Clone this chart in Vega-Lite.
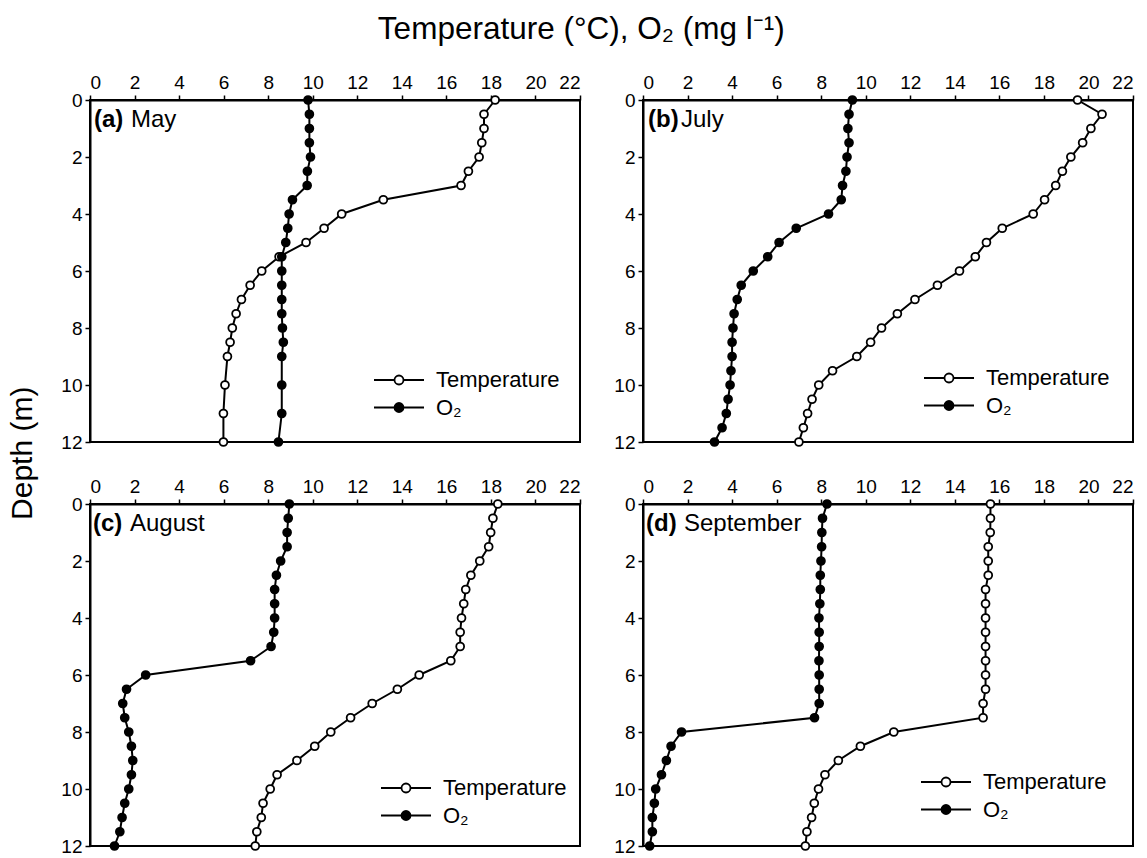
{
  "$schema": "https://vega.github.io/schema/vega-lite/v6.json",
  "padding": {"left": 7, "top": 13, "right": 5, "bottom": 0},
  "background": "white",
  "config": {
    "font": "Liberation Sans",
    "view": {"stroke": "black", "strokeWidth": 2},
    "axis": {"domainColor": "black", "domainWidth": 2, "tickColor": "black", "tickWidth": 1.5, "tickSize": 5, "labelFont": "Liberation Sans", "labelFontSize": 19, "labelColor": "black", "grid": false, "labelPadding": 3, "title": null},
    "legend": {"orient": "none", "title": null, "padding": 0, "symbolType": "M-5,0L-0.9,0M0.9,0L5,0M-0.9,0A0.9,0.9,0,1,1,0.9,0A0.9,0.9,0,1,1,-0.9,0Z", "symbolSize": 100, "symbolStrokeColor": "black", "symbolStrokeWidth": 1.8, "labelFont": "Liberation Sans", "labelFontSize": 22, "labelColor": "black", "labelOffset": 26, "rowPadding": 5.5},
    "title": {"font": "Liberation Sans", "fontWeight": "normal", "color": "black", "fontSize": 30}
  },
  "datasets": {
    "prof": [
      {"m":"a","d":0,"s":"T","v":18.19},{"m":"a","d":0.5,"s":"T","v":17.69},{"m":"a","d":1,"s":"T","v":17.69},{"m":"a","d":1.5,"s":"T","v":17.59},{"m":"a","d":2,"s":"T","v":17.47},{"m":"a","d":2.5,"s":"T","v":16.99},{"m":"a","d":3,"s":"T","v":16.66},{"m":"a","d":3.5,"s":"T","v":13.17},{"m":"a","d":4,"s":"T","v":11.3},{"m":"a","d":4.5,"s":"T","v":10.51},{"m":"a","d":5,"s":"T","v":9.7},{"m":"a","d":5.5,"s":"T","v":8.49},{"m":"a","d":6,"s":"T","v":7.71},{"m":"a","d":6.5,"s":"T","v":7.19},{"m":"a","d":7,"s":"T","v":6.8},{"m":"a","d":7.5,"s":"T","v":6.56},{"m":"a","d":8,"s":"T","v":6.39},{"m":"a","d":8.5,"s":"T","v":6.29},{"m":"a","d":9,"s":"T","v":6.17},{"m":"a","d":10,"s":"T","v":6.06},{"m":"a","d":11,"s":"T","v":5.99},{"m":"a","d":12,"s":"T","v":5.99},
      {"m":"a","d":0,"s":"O","v":9.79},{"m":"a","d":0.5,"s":"O","v":9.85},{"m":"a","d":1,"s":"O","v":9.85},{"m":"a","d":1.5,"s":"O","v":9.85},{"m":"a","d":2,"s":"O","v":9.9},{"m":"a","d":2.5,"s":"O","v":9.76},{"m":"a","d":3,"s":"O","v":9.75},{"m":"a","d":3.5,"s":"O","v":9.09},{"m":"a","d":4,"s":"O","v":8.94},{"m":"a","d":4.5,"s":"O","v":8.88},{"m":"a","d":5,"s":"O","v":8.79},{"m":"a","d":5.5,"s":"O","v":8.61},{"m":"a","d":6,"s":"O","v":8.61},{"m":"a","d":6.5,"s":"O","v":8.61},{"m":"a","d":7,"s":"O","v":8.61},{"m":"a","d":7.5,"s":"O","v":8.61},{"m":"a","d":8,"s":"O","v":8.64},{"m":"a","d":8.5,"s":"O","v":8.68},{"m":"a","d":9,"s":"O","v":8.61},{"m":"a","d":10,"s":"O","v":8.61},{"m":"a","d":11,"s":"O","v":8.61},{"m":"a","d":12,"s":"O","v":8.46},
      {"m":"b","d":0,"s":"T","v":19.51},{"m":"b","d":0.5,"s":"T","v":20.61},{"m":"b","d":1,"s":"T","v":20.11},{"m":"b","d":1.5,"s":"T","v":19.74},{"m":"b","d":2,"s":"T","v":19.21},{"m":"b","d":2.5,"s":"T","v":18.83},{"m":"b","d":3,"s":"T","v":18.53},{"m":"b","d":3.5,"s":"T","v":18.03},{"m":"b","d":4,"s":"T","v":17.52},{"m":"b","d":4.5,"s":"T","v":16.13},{"m":"b","d":5,"s":"T","v":15.42},{"m":"b","d":5.5,"s":"T","v":14.92},{"m":"b","d":6,"s":"T","v":14.21},{"m":"b","d":6.5,"s":"T","v":13.22},{"m":"b","d":7,"s":"T","v":12.21},{"m":"b","d":7.5,"s":"T","v":11.42},{"m":"b","d":8,"s":"T","v":10.71},{"m":"b","d":8.5,"s":"T","v":10.22},{"m":"b","d":9,"s":"T","v":9.6},{"m":"b","d":9.5,"s":"T","v":8.51},{"m":"b","d":10,"s":"T","v":7.89},{"m":"b","d":10.5,"s":"T","v":7.59},{"m":"b","d":11,"s":"T","v":7.39},{"m":"b","d":11.5,"s":"T","v":7.2},{"m":"b","d":12,"s":"T","v":7.0},
      {"m":"b","d":0,"s":"O","v":9.4},{"m":"b","d":0.5,"s":"O","v":9.25},{"m":"b","d":1,"s":"O","v":9.2},{"m":"b","d":1.5,"s":"O","v":9.25},{"m":"b","d":2,"s":"O","v":9.16},{"m":"b","d":2.5,"s":"O","v":9.11},{"m":"b","d":3,"s":"O","v":8.96},{"m":"b","d":3.5,"s":"O","v":8.9},{"m":"b","d":4,"s":"O","v":8.33},{"m":"b","d":4.5,"s":"O","v":6.88},{"m":"b","d":5,"s":"O","v":6.11},{"m":"b","d":5.5,"s":"O","v":5.6},{"m":"b","d":6,"s":"O","v":4.95},{"m":"b","d":6.5,"s":"O","v":4.41},{"m":"b","d":7,"s":"O","v":4.23},{"m":"b","d":7.5,"s":"O","v":4.09},{"m":"b","d":8,"s":"O","v":4.04},{"m":"b","d":8.5,"s":"O","v":4.0},{"m":"b","d":9,"s":"O","v":4.0},{"m":"b","d":9.5,"s":"O","v":3.95},{"m":"b","d":10,"s":"O","v":3.91},{"m":"b","d":10.5,"s":"O","v":3.82},{"m":"b","d":11,"s":"O","v":3.74},{"m":"b","d":11.5,"s":"O","v":3.55},{"m":"b","d":12,"s":"O","v":3.21},
      {"m":"c","d":0,"s":"T","v":18.31},{"m":"c","d":0.5,"s":"T","v":18.09},{"m":"c","d":1,"s":"T","v":17.99},{"m":"c","d":1.5,"s":"T","v":17.9},{"m":"c","d":2,"s":"T","v":17.5},{"m":"c","d":2.5,"s":"T","v":17.1},{"m":"c","d":3,"s":"T","v":16.87},{"m":"c","d":3.5,"s":"T","v":16.78},{"m":"c","d":4,"s":"T","v":16.68},{"m":"c","d":4.5,"s":"T","v":16.62},{"m":"c","d":5,"s":"T","v":16.62},{"m":"c","d":5.5,"s":"T","v":16.2},{"m":"c","d":6,"s":"T","v":14.78},{"m":"c","d":6.5,"s":"T","v":13.8},{"m":"c","d":7,"s":"T","v":12.67},{"m":"c","d":7.5,"s":"T","v":11.7},{"m":"c","d":8,"s":"T","v":10.81},{"m":"c","d":8.5,"s":"T","v":10.09},{"m":"c","d":9,"s":"T","v":9.29},{"m":"c","d":9.5,"s":"T","v":8.4},{"m":"c","d":10,"s":"T","v":8.09},{"m":"c","d":10.5,"s":"T","v":7.77},{"m":"c","d":11,"s":"T","v":7.69},{"m":"c","d":11.5,"s":"T","v":7.49},{"m":"c","d":12,"s":"T","v":7.42},
      {"m":"c","d":0,"s":"O","v":8.95},{"m":"c","d":0.5,"s":"O","v":8.9},{"m":"c","d":1,"s":"O","v":8.85},{"m":"c","d":1.5,"s":"O","v":8.85},{"m":"c","d":2,"s":"O","v":8.56},{"m":"c","d":2.5,"s":"O","v":8.37},{"m":"c","d":3,"s":"O","v":8.29},{"m":"c","d":3.5,"s":"O","v":8.29},{"m":"c","d":4,"s":"O","v":8.29},{"m":"c","d":4.5,"s":"O","v":8.25},{"m":"c","d":5,"s":"O","v":8.13},{"m":"c","d":5.5,"s":"O","v":7.21},{"m":"c","d":6,"s":"O","v":2.5},{"m":"c","d":6.5,"s":"O","v":1.64},{"m":"c","d":7,"s":"O","v":1.47},{"m":"c","d":7.5,"s":"O","v":1.56},{"m":"c","d":8,"s":"O","v":1.74},{"m":"c","d":8.5,"s":"O","v":1.86},{"m":"c","d":9,"s":"O","v":1.92},{"m":"c","d":9.5,"s":"O","v":1.86},{"m":"c","d":10,"s":"O","v":1.74},{"m":"c","d":10.5,"s":"O","v":1.56},{"m":"c","d":11,"s":"O","v":1.44},{"m":"c","d":11.5,"s":"O","v":1.34},{"m":"c","d":12,"s":"O","v":1.1},
      {"m":"d","d":0,"s":"T","v":15.6},{"m":"d","d":0.5,"s":"T","v":15.6},{"m":"d","d":1,"s":"T","v":15.59},{"m":"d","d":1.5,"s":"T","v":15.5},{"m":"d","d":2,"s":"T","v":15.5},{"m":"d","d":2.5,"s":"T","v":15.5},{"m":"d","d":3,"s":"T","v":15.38},{"m":"d","d":3.5,"s":"T","v":15.38},{"m":"d","d":4,"s":"T","v":15.38},{"m":"d","d":4.5,"s":"T","v":15.38},{"m":"d","d":5,"s":"T","v":15.38},{"m":"d","d":5.5,"s":"T","v":15.38},{"m":"d","d":6,"s":"T","v":15.38},{"m":"d","d":6.5,"s":"T","v":15.38},{"m":"d","d":7,"s":"T","v":15.27},{"m":"d","d":7.5,"s":"T","v":15.27},{"m":"d","d":8,"s":"T","v":11.26},{"m":"d","d":8.5,"s":"T","v":9.76},{"m":"d","d":9,"s":"T","v":8.77},{"m":"d","d":9.5,"s":"T","v":8.17},{"m":"d","d":10,"s":"T","v":7.88},{"m":"d","d":10.5,"s":"T","v":7.69},{"m":"d","d":11,"s":"T","v":7.57},{"m":"d","d":11.5,"s":"T","v":7.36},{"m":"d","d":12,"s":"T","v":7.29},
      {"m":"d","d":0,"s":"O","v":8.26},{"m":"d","d":0.5,"s":"O","v":8.06},{"m":"d","d":1,"s":"O","v":8.03},{"m":"d","d":1.5,"s":"O","v":8.02},{"m":"d","d":2,"s":"O","v":7.99},{"m":"d","d":2.5,"s":"O","v":7.96},{"m":"d","d":3,"s":"O","v":7.96},{"m":"d","d":3.5,"s":"O","v":7.94},{"m":"d","d":4,"s":"O","v":7.9},{"m":"d","d":4.5,"s":"O","v":7.91},{"m":"d","d":5,"s":"O","v":7.91},{"m":"d","d":5.5,"s":"O","v":7.9},{"m":"d","d":6,"s":"O","v":7.91},{"m":"d","d":6.5,"s":"O","v":7.91},{"m":"d","d":7,"s":"O","v":7.91},{"m":"d","d":7.5,"s":"O","v":7.7},{"m":"d","d":8,"s":"O","v":1.73},{"m":"d","d":8.5,"s":"O","v":1.26},{"m":"d","d":9,"s":"O","v":1.05},{"m":"d","d":9.5,"s":"O","v":0.83},{"m":"d","d":10,"s":"O","v":0.57},{"m":"d","d":10.5,"s":"O","v":0.51},{"m":"d","d":11,"s":"O","v":0.42},{"m":"d","d":11.5,"s":"O","v":0.42},{"m":"d","d":12,"s":"O","v":0.3}
    ],
    "labels": [
      {"m":"a","tag":"(a)","name":"May"},
      {"m":"b","tag":"(b)","name":"July"},
      {"m":"c","tag":"(c)","name":"August"},
      {"m":"d","tag":"(d)","name":"September"}
    ]
  },
  "title": {"text": "Depth (m)", "orient": "left", "anchor": "middle", "offset": 22, "dx": -18},
  "vconcat": [
    {
      "title": {"text": "Temperature (°C), O₂ (mg l⁻¹)", "anchor": "middle", "fontSize": 31.5, "offset": 27, "dx": -16},
      "columns": 2,
      "bounds": "flush",
      "spacing": {"row": 62, "column": 63},
      "resolve": {"scale": {"fill": "independent"}, "legend": {"fill": "independent"}},
      "concat": [
        {
          "width": 490, "height": 342,
          "layer": [
            {"data": {"name": "prof"}, "transform": [{"filter": "datum.m === 'a'"}],
             "mark": {"type": "line", "color": "black", "strokeWidth": 2},
             "encoding": {
               "x": {"field": "v", "type": "quantitative", "scale": {"domain": [0, 22], "nice": false, "zero": false}, "axis": {"orient": "top", "values": [0,2,4,6,8,10,12,14,16,18,20,22]}},
               "y": {"field": "d", "type": "quantitative", "scale": {"domain": [0, 12], "reverse": true, "nice": false}, "axis": {"values": [0,2,4,6,8,10,12]}},
               "detail": {"field": "s"}, "order": {"field": "d", "type": "quantitative"}}},
            {"data": {"name": "prof"}, "transform": [{"filter": "datum.m === 'a'"}],
             "mark": {"type": "point", "shape": "circle", "filled": true, "stroke": "black", "strokeWidth": 1.8, "size": 62, "opacity": 1},
             "encoding": {
               "x": {"field": "v", "type": "quantitative"},
               "y": {"field": "d", "type": "quantitative"},
               "fill": {"field": "s", "type": "nominal", "scale": {"domain": ["T", "O"], "range": ["white", "black"]}, "legend": {"legendX": 298, "legendY": 269, "labelExpr": "datum.label == 'T' ? 'Temperature' : 'O₂'"}}}},
            {"data": {"name": "labels"}, "transform": [{"filter": "datum.m === 'a'"}],
             "mark": {"type": "text", "align": "left", "baseline": "middle", "dx": 4, "dy": 20, "fontSize": 24, "fontWeight": "bold", "font": "Liberation Sans", "color": "black"},
             "encoding": {"x": {"datum": 0, "type": "quantitative"}, "y": {"datum": 0, "type": "quantitative"}, "text": {"field": "tag"}}},
            {"data": {"name": "labels"}, "transform": [{"filter": "datum.m === 'a'"}],
             "mark": {"type": "text", "align": "left", "baseline": "middle", "dx": 41, "dy": 20, "fontSize": 24, "font": "Liberation Sans", "color": "black"},
             "encoding": {"x": {"datum": 0, "type": "quantitative"}, "y": {"datum": 0, "type": "quantitative"}, "text": {"field": "name"}}}
          ]
        },
        {
          "width": 490, "height": 342,
          "layer": [
            {"data": {"name": "prof"}, "transform": [{"filter": "datum.m === 'b'"}],
             "mark": {"type": "line", "color": "black", "strokeWidth": 2},
             "encoding": {
               "x": {"field": "v", "type": "quantitative", "scale": {"domain": [0, 22], "nice": false, "zero": false}, "axis": {"orient": "top", "values": [0,2,4,6,8,10,12,14,16,18,20,22]}},
               "y": {"field": "d", "type": "quantitative", "scale": {"domain": [0, 12], "reverse": true, "nice": false}, "axis": {"values": [0,2,4,6,8,10,12]}},
               "detail": {"field": "s"}, "order": {"field": "d", "type": "quantitative"}}},
            {"data": {"name": "prof"}, "transform": [{"filter": "datum.m === 'b'"}],
             "mark": {"type": "point", "shape": "circle", "filled": true, "stroke": "black", "strokeWidth": 1.8, "size": 62, "opacity": 1},
             "encoding": {
               "x": {"field": "v", "type": "quantitative"},
               "y": {"field": "d", "type": "quantitative"},
               "fill": {"field": "s", "type": "nominal", "scale": {"domain": ["T", "O"], "range": ["white", "black"]}, "legend": {"legendX": 295, "legendY": 267, "labelExpr": "datum.label == 'T' ? 'Temperature' : 'O₂'"}}}},
            {"data": {"name": "labels"}, "transform": [{"filter": "datum.m === 'b'"}],
             "mark": {"type": "text", "align": "left", "baseline": "middle", "dx": 5, "dy": 20, "fontSize": 24, "fontWeight": "bold", "font": "Liberation Sans", "color": "black"},
             "encoding": {"x": {"datum": 0, "type": "quantitative"}, "y": {"datum": 0, "type": "quantitative"}, "text": {"field": "tag"}}},
            {"data": {"name": "labels"}, "transform": [{"filter": "datum.m === 'b'"}],
             "mark": {"type": "text", "align": "left", "baseline": "middle", "dx": 38, "dy": 20, "fontSize": 24, "font": "Liberation Sans", "color": "black"},
             "encoding": {"x": {"datum": 0, "type": "quantitative"}, "y": {"datum": 0, "type": "quantitative"}, "text": {"field": "name"}}}
          ]
        },
        {
          "width": 490, "height": 342,
          "layer": [
            {"data": {"name": "prof"}, "transform": [{"filter": "datum.m === 'c'"}],
             "mark": {"type": "line", "color": "black", "strokeWidth": 2},
             "encoding": {
               "x": {"field": "v", "type": "quantitative", "scale": {"domain": [0, 22], "nice": false, "zero": false}, "axis": {"orient": "top", "values": [0,2,4,6,8,10,12,14,16,18,20,22]}},
               "y": {"field": "d", "type": "quantitative", "scale": {"domain": [0, 12], "reverse": true, "nice": false}, "axis": {"values": [0,2,4,6,8,10,12]}},
               "detail": {"field": "s"}, "order": {"field": "d", "type": "quantitative"}}},
            {"data": {"name": "prof"}, "transform": [{"filter": "datum.m === 'c'"}],
             "mark": {"type": "point", "shape": "circle", "filled": true, "stroke": "black", "strokeWidth": 1.8, "size": 62, "opacity": 1},
             "encoding": {
               "x": {"field": "v", "type": "quantitative"},
               "y": {"field": "d", "type": "quantitative"},
               "fill": {"field": "s", "type": "nominal", "scale": {"domain": ["T", "O"], "range": ["white", "black"]}, "legend": {"legendX": 305, "legendY": 273, "labelExpr": "datum.label == 'T' ? 'Temperature' : 'O₂'"}}}},
            {"data": {"name": "labels"}, "transform": [{"filter": "datum.m === 'c'"}],
             "mark": {"type": "text", "align": "left", "baseline": "middle", "dx": 3, "dy": 20, "fontSize": 24, "fontWeight": "bold", "font": "Liberation Sans", "color": "black"},
             "encoding": {"x": {"datum": 0, "type": "quantitative"}, "y": {"datum": 0, "type": "quantitative"}, "text": {"field": "tag"}}},
            {"data": {"name": "labels"}, "transform": [{"filter": "datum.m === 'c'"}],
             "mark": {"type": "text", "align": "left", "baseline": "middle", "dx": 40, "dy": 20, "fontSize": 24, "font": "Liberation Sans", "color": "black"},
             "encoding": {"x": {"datum": 0, "type": "quantitative"}, "y": {"datum": 0, "type": "quantitative"}, "text": {"field": "name"}}}
          ]
        },
        {
          "width": 490, "height": 342,
          "layer": [
            {"data": {"name": "prof"}, "transform": [{"filter": "datum.m === 'd'"}],
             "mark": {"type": "line", "color": "black", "strokeWidth": 2},
             "encoding": {
               "x": {"field": "v", "type": "quantitative", "scale": {"domain": [0, 22], "nice": false, "zero": false}, "axis": {"orient": "top", "values": [0,2,4,6,8,10,12,14,16,18,20,22]}},
               "y": {"field": "d", "type": "quantitative", "scale": {"domain": [0, 12], "reverse": true, "nice": false}, "axis": {"values": [0,2,4,6,8,10,12]}},
               "detail": {"field": "s"}, "order": {"field": "d", "type": "quantitative"}}},
            {"data": {"name": "prof"}, "transform": [{"filter": "datum.m === 'd'"}],
             "mark": {"type": "point", "shape": "circle", "filled": true, "stroke": "black", "strokeWidth": 1.8, "size": 62, "opacity": 1},
             "encoding": {
               "x": {"field": "v", "type": "quantitative"},
               "y": {"field": "d", "type": "quantitative"},
               "fill": {"field": "s", "type": "nominal", "scale": {"domain": ["T", "O"], "range": ["white", "black"]}, "legend": {"legendX": 292, "legendY": 267, "labelExpr": "datum.label == 'T' ? 'Temperature' : 'O₂'"}}}},
            {"data": {"name": "labels"}, "transform": [{"filter": "datum.m === 'd'"}],
             "mark": {"type": "text", "align": "left", "baseline": "middle", "dx": 3, "dy": 20, "fontSize": 24, "fontWeight": "bold", "font": "Liberation Sans", "color": "black"},
             "encoding": {"x": {"datum": 0, "type": "quantitative"}, "y": {"datum": 0, "type": "quantitative"}, "text": {"field": "tag"}}},
            {"data": {"name": "labels"}, "transform": [{"filter": "datum.m === 'd'"}],
             "mark": {"type": "text", "align": "left", "baseline": "middle", "dx": 41, "dy": 20, "fontSize": 24, "font": "Liberation Sans", "color": "black"},
             "encoding": {"x": {"datum": 0, "type": "quantitative"}, "y": {"datum": 0, "type": "quantitative"}, "text": {"field": "name"}}}
          ]
        }
      ]
    }
  ]
}
